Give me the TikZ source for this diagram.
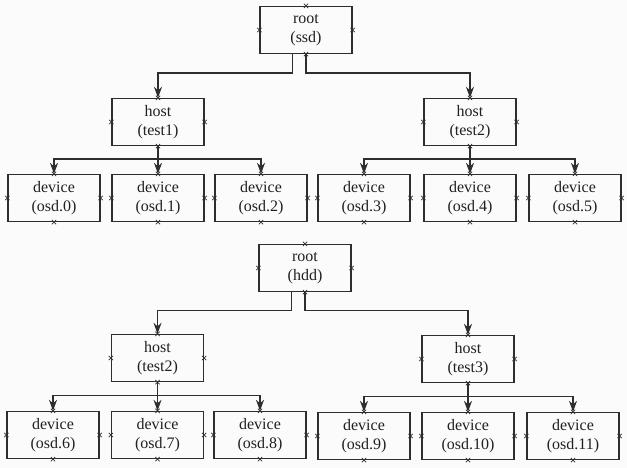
\documentclass[tikz,border=0pt]{standalone}
\usepackage{fontspec}
\setmainfont{Liberation Serif}
\usetikzlibrary{arrows.meta,shapes.misc}
\definecolor{ink}{HTML}{2E2E2E}
\tikzset{
    block/.style = {
        draw=ink,
        shape=rectangle,
        minimum height=47pt,
        minimum width=92pt,
        inner sep=0pt,
        line width=1.3pt,
        align=center,
        text=ink!70!black,
        font=\fontsize{16}{19.5}\selectfont
    },
    xmark/.style = {
        draw=ink,
        shape=cross out,
        inner sep=0pt,
        minimum size=3.5pt,
        line width=0.8pt
    },
    link/.style = {
        draw=ink,
        line width=1.3pt,
        ->
    },
    >={Stealth[length=11pt,width=8pt,inset=3.5pt]},
}

\begin{document}
\begin{tikzpicture}[x=1pt,y=-1pt]
                \path[use as bounding box, fill=gray!3] (0,0) rectangle (627,468);

                % ssd tree
                \node[block] (ssd) at (306,30) {root\\(ssd)};
                \node[block] (test1) at (158,122) {host\\(test1)};
                \node[block] (test2) at (470,122) {host\\(test2)};
                \node[block] (osd0) at (54,198) {device\\(osd.0)};
                \node[block] (osd1) at (158,198) {device\\(osd.1)};
                \node[block] (osd2) at (261,198) {device\\(osd.2)};
                \node[block] (osd3) at (364,198) {device\\(osd.3)};
                \node[block] (osd4) at (470,198) {device\\(osd.4)};
                \node[block] (osd5) at (575,198) {device\\(osd.5)};

                % hdd tree
                \node[block] (hdd) at (305,268) {root\\(hdd)};
                \node[block] (test2b) at (157.5,358) {host\\(test2)};
                \node[block] (test3) at (468,359) {host\\(test3)};
                \node[block] (osd6) at (53,435) {device\\(osd.6)};
                \node[block] (osd7) at (157.5,435) {device\\(osd.7)};
                \node[block] (osd8) at (260,435) {device\\(osd.8)};
                \node[block] (osd9) at (364,436) {device\\(osd.9)};
                \node[block] (osd10) at (468,436) {device\\(osd.10)};
                \node[block] (osd11) at (573,436) {device\\(osd.11)};

                \path[link] (ssd.241) -- ++(0,19) -| (test1);
                \path[link] (ssd.south) -- ++(0,19) -| (test2);
                \path[link] (test1) -- (osd1);
                \path[link] (test1.south) -- ++(0,13) -| (osd0);
                \path[link] (test1.south) -- ++(0,13) -| (osd2);
                \path[link] (test2) -- (osd4);
                \path[link] (test2.south) -- ++(0,13) -| (osd3);
                \path[link] (test2.south) -- ++(0,13) -| (osd5);

                \path[link] (hdd.241) -- ++(0,18) -| (test2b);
                \path[link] (hdd.south) -- ++(0,18) -| (test3);
                \path[link] (test2b) -- (osd7);
                \path[link] (test2b.south) -- ++(0,13) -| (osd6);
                \path[link] (test2b.south) -- ++(0,13) -| (osd8);
                \path[link] (test3) -- (osd10);
                \path[link] (test3.south) -- ++(0,13) -| (osd9);
                \path[link] (test3.south) -- ++(0,13) -| (osd11);

                % little marks on the sides
                \foreach \n in {ssd,test1,test2,osd0,osd1,osd2,osd3,osd4,osd5,hdd,test2b,test3,osd6,osd7,osd8,osd9,osd10,osd11}
                    \foreach \a in {north,south,east,west}
                        \node[xmark] at (\n.\a) {};
            \end{tikzpicture}
\end{document}
